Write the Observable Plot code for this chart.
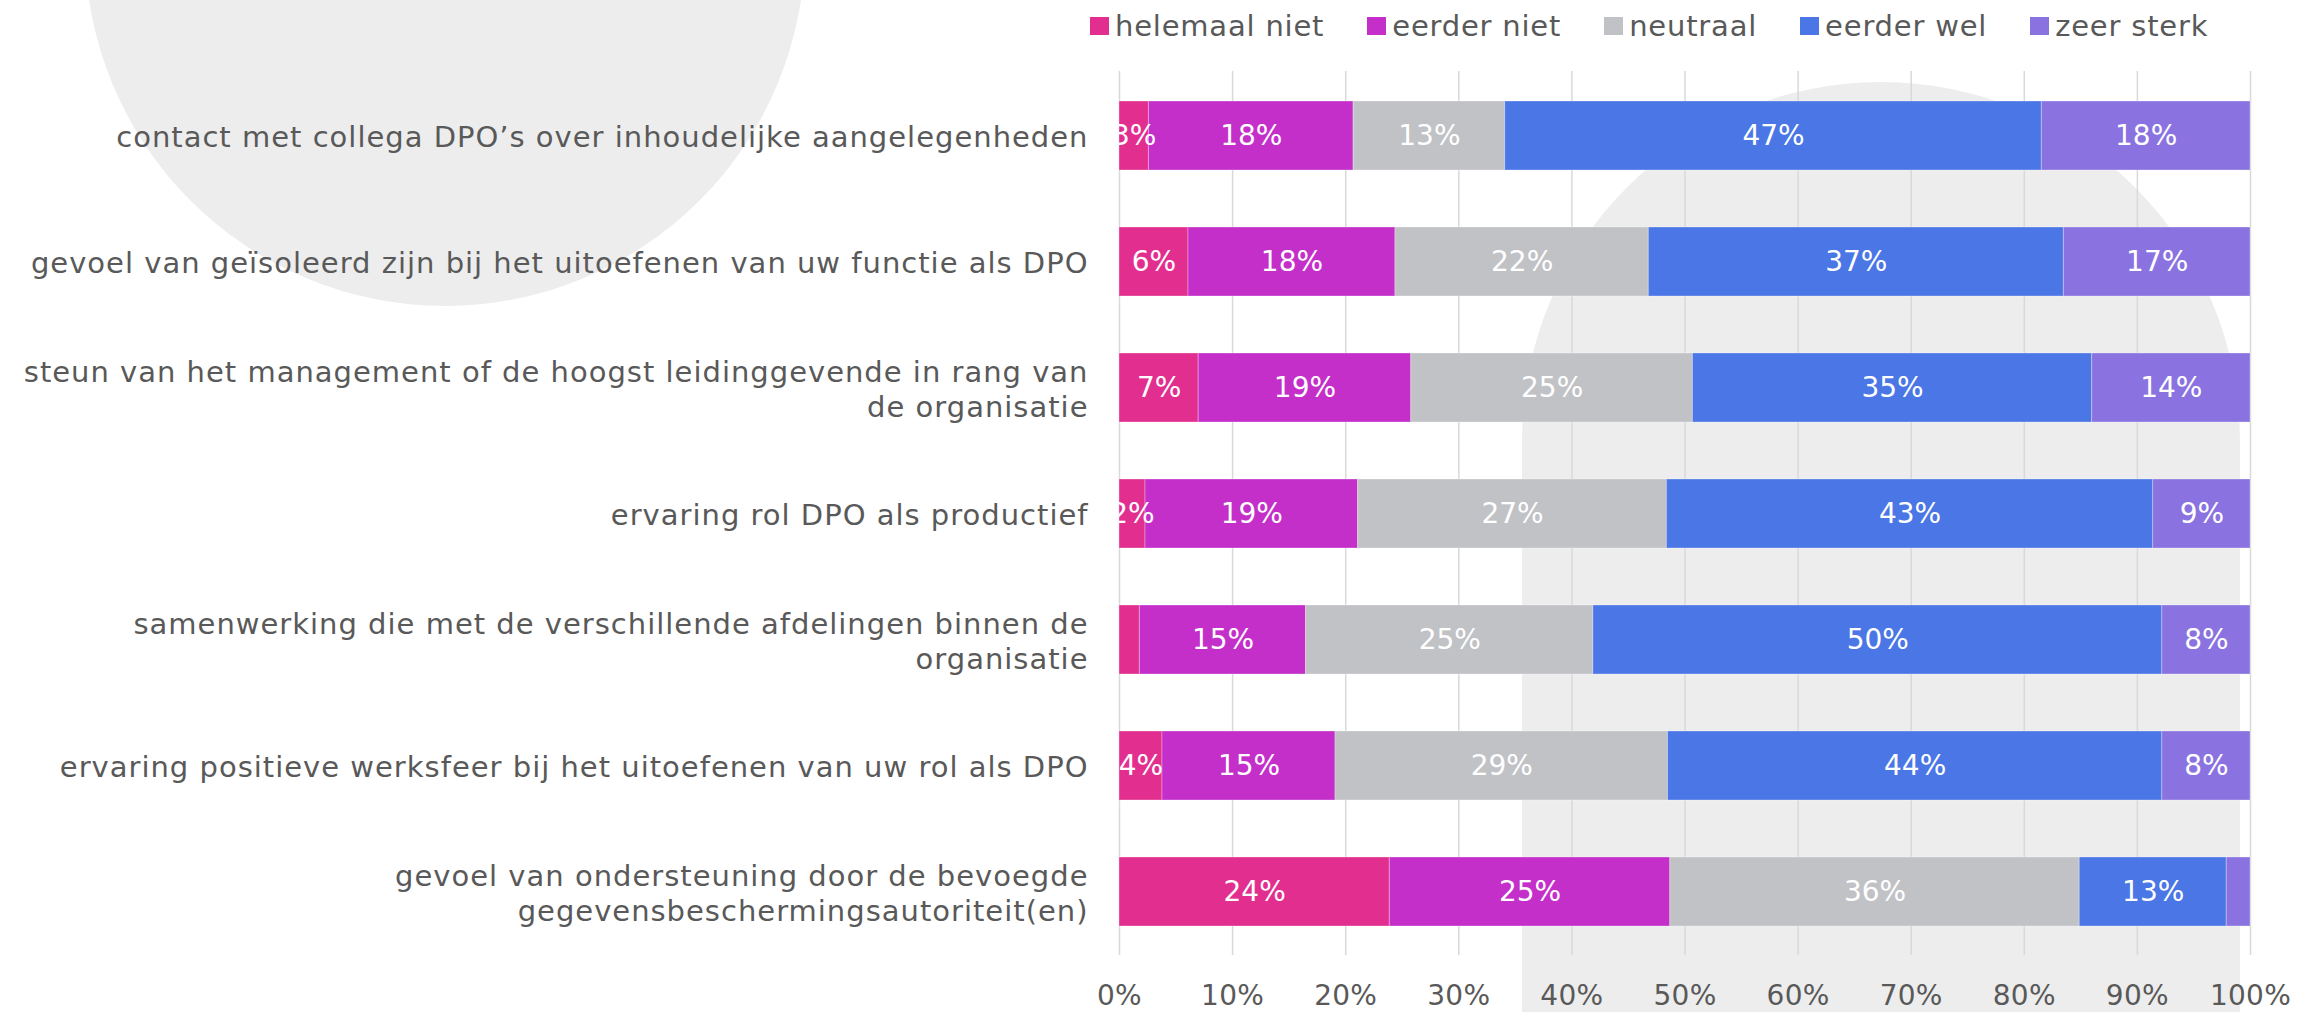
<!DOCTYPE html>
<html>
<head>
<meta charset="utf-8">
<script src="https://cdn.jsdelivr.net/npm/d3@7"></script>
<script src="https://cdn.jsdelivr.net/npm/@observablehq/plot@0.6"></script>
<style>
  html, body { margin: 0; padding: 0; background: #ffffff; }
  #wrap { position: relative; width: 2305px; height: 1012px; overflow: hidden; font-family: "DejaVu Sans", sans-serif; }
  .bg { position: absolute; background: #ededed; z-index: 0; }
  #legend { position: relative; z-index: 2; height: 52px; display: flex; align-items: center; padding-left: 1090px; gap: 43px; color: #595959; font-size: 29px; letter-spacing: 0.8px; }
  .item { display: flex; align-items: center; gap: 6px; white-space: nowrap; }
  .sw { width: 19px; height: 18px; display: inline-block; }
  #chart { position: relative; z-index: 1; }
  g[aria-label="y-axis tick label"] { letter-spacing: 1.0px; }
  g[aria-label="x-axis tick label"] { letter-spacing: 0.3px; }
</style>
</head>
<body>
<div id="wrap">
  <div class="bg" style="left:85px; top:-414px; width:720px; height:720px; border-radius:50%;"></div>
  <div class="bg" style="left:1522px; top:82px; width:718px; height:960px; border-radius:359px 359px 0 0;"></div>
  <div id="legend"></div>
  <div id="chart"></div>
</div>
<script>
const categories = [
  "contact met collega DPO’s over inhoudelijke aangelegenheden",
  "gevoel van geïsoleerd zijn bij het uitoefenen van uw functie als DPO",
  "steun van het management of de hoogst leidinggevende in rang van\nde organisatie",
  "ervaring rol DPO als productief",
  "samenwerking die met de verschillende afdelingen binnen de\norganisatie",
  "ervaring positieve werksfeer bij het uitoefenen van uw rol als DPO",
  "gevoel van ondersteuning door de bevoegde\ngegevensbeschermingsautoriteit(en)"
];
const series = ["helemaal niet", "eerder niet", "neutraal", "eerder wel", "zeer sterk"];
const seriesColors = ["#e22f8f", "#c42fca", "#c1c2c6", "#4a76e6", "#8a73e0"];

const helemaalNiet = [2.6, 6.1, 7.0, 2.3, 1.8, 3.8, 23.9];
const eerderNiet   = [18.1, 18.3, 18.8, 18.8, 14.7, 15.3, 24.8];
const neutraal     = [13.4, 22.4, 24.9, 27.3, 25.4, 29.4, 36.2];
const eerderWel    = [47.45, 36.7, 35.3, 43.0, 50.3, 43.7, 13.0];
const zeerSterk    = [18.45, 16.5, 14.0, 8.6, 7.8, 7.8, 2.1];

const xTicks = [0, 10, 20, 30, 40, 50, 60, 70, 80, 90, 100];

const seriesValues = [helemaalNiet, eerderNiet, neutraal, eerderWel, zeerSterk];
const data = [];
series.forEach((s, si) => {
  categories.forEach((c, ci) => {
    data.push({series: s, cat: c, value: seriesValues[si][ci]});
  });
});

// legend
const legend = document.getElementById("legend");
series.forEach((s, i) => {
  const it = document.createElement("div");
  it.className = "item";
  const sw = document.createElement("span");
  sw.className = "sw";
  sw.style.background = seriesColors[i];
  const tx = document.createElement("span");
  tx.textContent = s;
  it.appendChild(sw); it.appendChild(tx);
  legend.appendChild(it);
});

const chart = Plot.plot({
  width: 2305,
  height: 960,
  marginLeft: 1119,
  marginRight: 55,
  marginTop: 19,
  marginBottom: 57,
  style: {background: "transparent", fontFamily: "DejaVu Sans, sans-serif", overflow: "visible"},
  x: {domain: [0, 100], label: null},
  y: {domain: categories, paddingInner: 0.453, paddingOuter: 0.2265, label: null},
  color: {domain: series, range: seriesColors},
  marks: [
    Plot.gridX(xTicks, {stroke: "#d9d9d9", strokeOpacity: 1, strokeWidth: 1.5}),
    Plot.barX(data, Plot.stackX({x: "value", y: "cat", fill: "series", order: series, stroke: "#ffffff", strokeOpacity: 0.3, strokeWidth: 1})),
    Plot.text(data, Plot.stackX({
      x: "value", y: "cat", z: "series", order: series,
      text: d => d.value >= 2.25 ? `${Math.round(d.value)}%` : "",
      fill: "white", fontSize: 28, clip: true
    })),
    Plot.axisX({ticks: xTicks, tickFormat: d => d + "%", tickSize: 0, tickPadding: 30, fontSize: 28, color: "#595959", label: null}),
    Plot.axisY({tickSize: 0, tickPadding: 31, fontSize: 29, lineHeight: 1.2, color: "#595959", label: null})
  ]
});
document.getElementById("chart").appendChild(chart);
</script>
</body>
</html>
